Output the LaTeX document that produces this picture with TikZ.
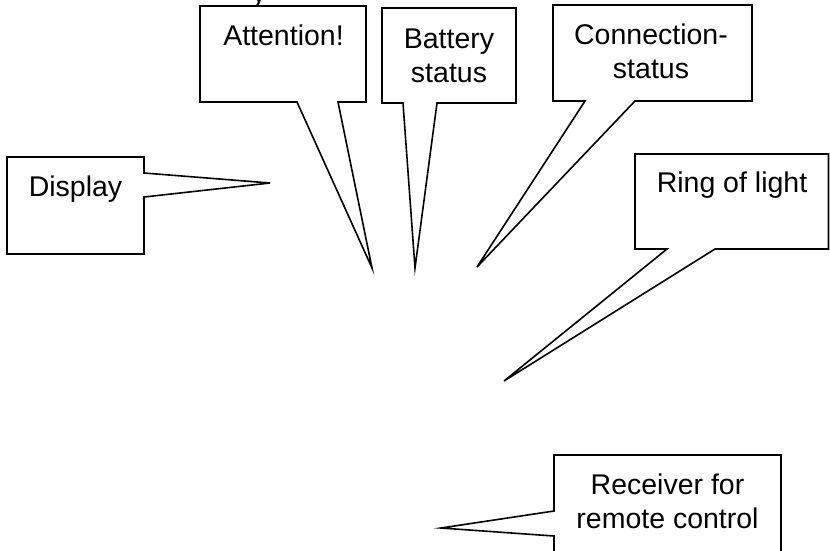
\documentclass[tikz,border=0pt]{standalone}
\usepackage{fontspec}
\setmainfont{Liberation Sans}
\begin{document}
\begin{tikzpicture}[x=1pt,y=-1pt,
  callout/.style={draw=black,line width=1.6pt,line join=miter,fill=white},
  lbl/.style={font=\fontsize{28.5}{34}\selectfont,inner sep=0pt,anchor=base,align=center}]
\useasboundingbox (0,0) rectangle (830,550);
\fill[white] (0,0) rectangle (830,550);
\begin{scope}
\clip (0,0) rectangle (830,550);
% cut-off text at the top edge
\node[lbl] (cut) at (259,2) {y};
% callout tips
\coordinate (tdisp) at (270,183);
\coordinate (tatt) at (372,268);
\coordinate (tbat) at (415,268);
\coordinate (tcon) at (477,267);
\coordinate (tring) at (504,381);
\coordinate (trec) at (441,528);
% Display
\draw[callout] (7,157) -- (144,157) -- (144,173) -- (tdisp) -- (144,197) -- (144,254) -- (7,254) -- cycle;
% Attention
\draw[callout] (200,6) -- (366,6) -- (366,102) -- (338,102) -- (tatt) -- (297,102) -- (200,102) -- cycle;
% Battery
\draw[callout] (382,8) -- (516,8) -- (516,103) -- (437,103) -- (tbat) -- (403,103) -- (382,103) -- cycle;
% Connection
\draw[callout] (553,5) -- (752,5) -- (752,101) -- (635,101) -- (tcon) -- (585,101) -- (553,101) -- cycle;
% Ring of light
\draw[callout] (635,154) -- (828.5,154) -- (828.5,249) -- (715,249) -- (tring) -- (667,249) -- (635,249) -- cycle;
% Receiver
\draw[callout] (554,511) -- (554,455) -- (781,455) -- (781,600) -- (554,600) -- (554,536) -- (trec) -- cycle;
\end{scope}
\node[lbl] (display) at (75.5,196) {Display};
\node[lbl] (attention) at (283.5,45) {Attention!};
\node[lbl] (battery) at (449,82) {Battery\\status};
\node[lbl] (connection) at (651,78) {Connection-\\status};
\node[lbl] (ring) at (732,192) {Ring of light};
\node[lbl] (receiver) at (667.5,528) {Receiver for\\remote control};
\end{tikzpicture}
\end{document}
